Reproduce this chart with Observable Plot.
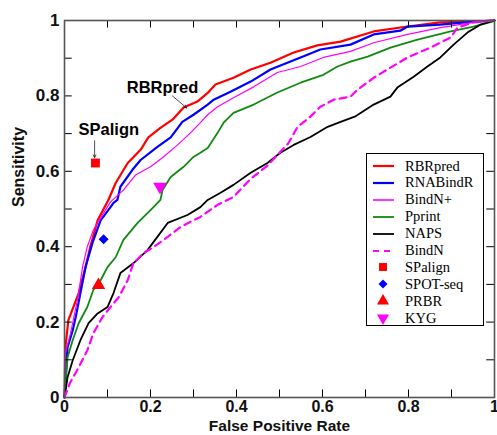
<!DOCTYPE html>
<html><head><meta charset="utf-8">
<script src="https://cdn.jsdelivr.net/npm/d3@7"></script>
<script src="https://cdn.jsdelivr.net/npm/@observablehq/plot@0.6"></script>
<style>
body{margin:0;background:#fff;}
#wrap{position:relative;width:497px;height:435px;}
#legend{position:absolute;left:366px;top:153px;width:118px;height:173px;border:1px solid #000;background:#fff;font-family:"Liberation Serif","Times New Roman",serif;font-size:14.5px;box-sizing:border-box;}
.item{position:absolute;left:0;height:16px;display:flex;align-items:center;white-space:nowrap;}
.item svg{margin-left:5px;margin-right:11px;}
</style></head><body><div id="wrap"></div>
<script>
// ---- data ----
const RBRpred = [[0,0],[0.002,0.133],[0.009,0.205],[0.033,0.277],[0.049,0.346],[0.06,0.40],[0.077,0.47],[0.102,0.524],[0.119,0.569],[0.147,0.622],[0.177,0.657],[0.195,0.69],[0.223,0.715],[0.251,0.737],[0.277,0.769],[0.309,0.785],[0.333,0.808],[0.351,0.83],[0.393,0.848],[0.433,0.87],[0.479,0.888],[0.533,0.915],[0.588,0.934],[0.642,0.944],[0.719,0.971],[0.798,0.984],[0.874,0.995],[0.951,0.997],[1,1]];
const RNABindR = [[0,0],[0.007,0.133],[0.019,0.178],[0.026,0.213],[0.037,0.277],[0.049,0.346],[0.065,0.41],[0.084,0.47],[0.107,0.505],[0.114,0.516],[0.123,0.524],[0.13,0.559],[0.158,0.604],[0.177,0.63],[0.216,0.665],[0.247,0.69],[0.274,0.731],[0.3,0.75],[0.333,0.777],[0.347,0.79],[0.386,0.811],[0.433,0.838],[0.479,0.87],[0.549,0.902],[0.595,0.923],[0.665,0.936],[0.719,0.963],[0.781,0.973],[0.798,0.984],[0.874,0.989],[0.951,0.997],[1,1]];
const BindNplus = [[0,0],[0.002,0.117],[0.014,0.17],[0.03,0.258],[0.042,0.346],[0.053,0.40],[0.067,0.444],[0.091,0.489],[0.107,0.519],[0.137,0.55],[0.165,0.59],[0.2,0.612],[0.23,0.638],[0.263,0.67],[0.293,0.702],[0.316,0.729],[0.333,0.75],[0.356,0.771],[0.393,0.795],[0.44,0.824],[0.495,0.862],[0.549,0.878],[0.602,0.902],[0.665,0.918],[0.719,0.941],[0.798,0.963],[0.874,0.981],[0.951,0.995],[1,1]];
const Pprint = [[0,0],[0.002,0.027],[0.007,0.106],[0.019,0.152],[0.033,0.197],[0.053,0.24],[0.067,0.285],[0.084,0.311],[0.1,0.346],[0.119,0.372],[0.137,0.418],[0.17,0.463],[0.2,0.497],[0.207,0.505],[0.223,0.524],[0.228,0.55],[0.247,0.585],[0.277,0.612],[0.3,0.638],[0.316,0.649],[0.333,0.662],[0.356,0.702],[0.37,0.729],[0.393,0.755],[0.44,0.777],[0.495,0.809],[0.549,0.835],[0.602,0.856],[0.635,0.878],[0.665,0.891],[0.705,0.904],[0.758,0.928],[0.821,0.949],[0.898,0.971],[0.951,0.984],[0.995,0.997],[1,1]];
const NAPS = [[0,0],[0.007,0.053],[0.019,0.098],[0.037,0.152],[0.056,0.197],[0.077,0.223],[0.1,0.24],[0.114,0.277],[0.13,0.33],[0.16,0.356],[0.193,0.391],[0.216,0.426],[0.24,0.463],[0.286,0.484],[0.316,0.505],[0.333,0.524],[0.363,0.543],[0.393,0.564],[0.433,0.596],[0.472,0.622],[0.502,0.649],[0.533,0.67],[0.572,0.691],[0.612,0.718],[0.642,0.731],[0.675,0.745],[0.719,0.777],[0.758,0.798],[0.774,0.822],[0.812,0.851],[0.844,0.878],[0.874,0.902],[0.905,0.936],[0.937,0.968],[0.967,0.989],[1,1]];
const BindN = [[0,0],[0.012,0.037],[0.033,0.08],[0.053,0.125],[0.067,0.17],[0.088,0.213],[0.107,0.24],[0.126,0.266],[0.147,0.311],[0.16,0.356],[0.184,0.383],[0.207,0.399],[0.24,0.426],[0.27,0.452],[0.3,0.47],[0.316,0.479],[0.356,0.511],[0.393,0.532],[0.433,0.58],[0.472,0.615],[0.521,0.675],[0.542,0.718],[0.572,0.745],[0.595,0.771],[0.626,0.79],[0.665,0.798],[0.681,0.816],[0.719,0.848],[0.758,0.875],[0.798,0.902],[0.851,0.928],[0.898,0.955],[0.914,0.981],[0.951,0.995],[1,1]];

const curveNames = ["RBRpred","RNABindR","BindN+","Pprint","NAPS","BindN"];
const curveData = [RBRpred, RNABindR, BindNplus, Pprint, NAPS, BindN];

const pointNames = ["SPalign","SPOT-seq","PRBR","KYG"];
const pointX = [0.072, 0.091, 0.079, 0.222];
const pointY = [0.622, 0.42, 0.298, 0.559];

const tickValues = [0, 0.2, 0.4, 0.6, 0.8, 1];
const minorTicks = [0.1, 0.2, 0.3, 0.4, 0.5, 0.6, 0.7, 0.8, 0.9];

const noteText = ["RBRpred", "SPalign"];
const noteX = [0.228, 0.103];
const noteY = [0.822, 0.71];
const arrowFrom = [[0.251, 0.80], [0.07, 0.681]];
const arrowTo = [[0.284, 0.768], [0.07, 0.636]];

// ---- styles ----
const lineStyle = {
  "RBRpred": {stroke: "#ff0000", w: 2.2, dash: null},
  "RNABindR": {stroke: "#0000ff", w: 2.2, dash: null},
  "BindN+": {stroke: "#ff00ff", w: 1.2, dash: null},
  "Pprint": {stroke: "#118a11", w: 1.8, dash: null},
  "NAPS": {stroke: "#000000", w: 1.8, dash: null},
  "BindN": {stroke: "#ff00ff", w: 2.2, dash: "7,5"}
};
const pointStyle = {
  "SPalign": {fill: "#ff0000", symbol: "square", r: 5, rotate: 0},
  "SPOT-seq": {fill: "#0000ff", symbol: "square", r: 4, rotate: 45},
  "PRBR": {fill: "#ff0000", symbol: "triangle", r: 5, rotate: 0},
  "KYG": {fill: "#ff00ff", symbol: "triangle", r: 5, rotate: 180}
};

const lines = curveNames.map((n, i) => Plot.line(curveData[i].map(([x, y]) => ({x, y})), {
  x: "x", y: "y", stroke: lineStyle[n].stroke, strokeWidth: lineStyle[n].w,
  strokeDasharray: lineStyle[n].dash, strokeLinejoin: "round"
}));
const points = pointNames.map((n, i) => Plot.dot([{x: pointX[i], y: pointY[i]}], {
  x: "x", y: "y", fill: pointStyle[n].fill, symbol: pointStyle[n].symbol, r: pointStyle[n].r,
  rotate: pointStyle[n].rotate, stroke: "none"
}));

const font = "'Liberation Sans', Arial, sans-serif";
const fmt = d => (d === 0 || d === 1) ? String(d) : d.toFixed(1);
const chart = Plot.plot({
  width: 497, height: 435,
  marginLeft: 64, marginRight: 3, marginTop: 20, marginBottom: 38,
  style: {fontFamily: font, background: "#fff", overflow: "visible"},
  x: {domain: [0, 1]},
  y: {domain: [0, 1]},
  marks: [
    ...lines,
    ...points,
    Plot.ruleX(minorTicks, {x: d => d, y1: 0, y2: 0.02, stroke: "#000", strokeWidth: 1}),
    Plot.ruleX(minorTicks, {x: d => d, y1: 1, y2: 0.98, stroke: "#000", strokeWidth: 1}),
    Plot.ruleY(minorTicks, {y: d => d, x1: 0, x2: 0.018, stroke: "#000", strokeWidth: 1}),
    Plot.ruleY(minorTicks, {y: d => d, x1: 1, x2: 0.982, stroke: "#000", strokeWidth: 1}),
    Plot.frame({stroke: "#555", strokeWidth: 1.6}),
    Plot.axisX(tickValues, {tickSize: 0, tickPadding: 3, fontSize: 16, fontWeight: "bold", fill: "#111",
      tickFormat: fmt, label: null}),
    Plot.axisY(tickValues, {tickSize: 0, tickPadding: 5, fontSize: 17, fontWeight: "bold", fill: "#111",
      tickFormat: fmt, label: null}),
    Plot.text(["False Positive Rate"], {frameAnchor: "bottom", dy: 29, fontSize: 15.5, fontWeight: "bold", fill: "#111", lineAnchor: "middle"}),
    Plot.text(["Sensitivity"], {frameAnchor: "left", dx: -46, dy: -2, rotate: -90, fontSize: 16, fontWeight: "bold", fill: "#111"}),
    Plot.text(noteText.map((t, i) => ({t, x: noteX[i], y: noteY[i]})), {x: "x", y: "y", text: "t", fontSize: 16.5, fontWeight: "bold", fill: "#000"}),
    Plot.arrow(arrowFrom.map((f, i) => ({x1: f[0], y1: f[1], x2: arrowTo[i][0], y2: arrowTo[i][1]})), {
      x1: "x1", y1: "y1", x2: "x2", y2: "y2", stroke: "#222", strokeWidth: 0.8, headLength: 6, headAngle: 50, bend: 0})
  ]
});
const wrap = document.getElementById("wrap");
wrap.appendChild(chart);

// ---- legend ----
const legend = document.createElement("div");
legend.id = "legend";
const allNames = [...curveNames, ...pointNames];
allNames.forEach((n, i) => {
  const item = document.createElement("div");
  item.className = "item";
  item.style.top = (4 + i * 16.9) + "px";
  let sample;
  if (lineStyle[n]) {
    const s = lineStyle[n];
    sample = `<svg width="22" height="16"><line x1="1" y1="8" x2="22" y2="8" stroke="${s.stroke}" stroke-width="${Math.max(s.w, 1.6)}" ${s.dash ? 'stroke-dasharray="6,5"' : ''}/></svg>`;
  } else {
    const s = pointStyle[n];
    const sym = d3.symbol(s.symbol === "square" ? d3.symbolSquare : d3.symbolTriangle, s.r * s.r * Math.PI * 0.8)();
    sample = `<svg width="22" height="16"><path d="${sym}" transform="translate(11,8) rotate(${s.rotate})" fill="${s.fill}"/></svg>`;
  }
  item.innerHTML = sample + `<span>${n}</span>`;
  legend.appendChild(item);
});
wrap.appendChild(legend);
</script></body></html>
